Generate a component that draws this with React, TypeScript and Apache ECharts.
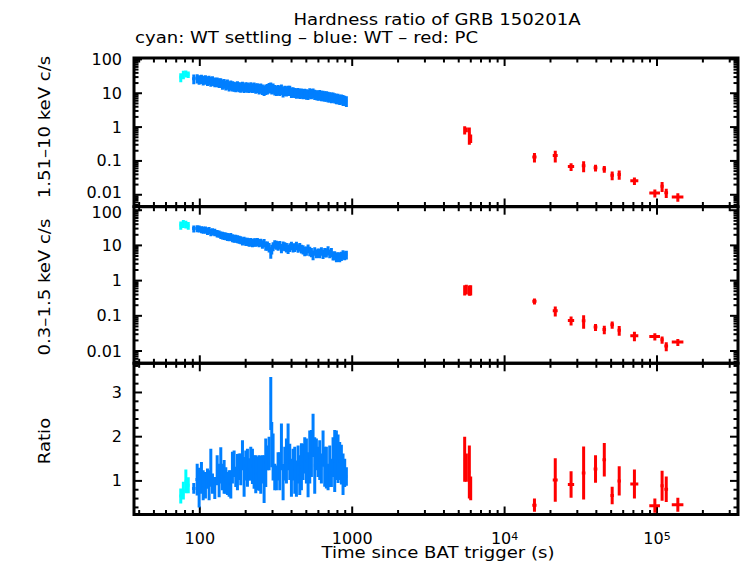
import * as echarts from 'echarts';
import { useEffect, useRef } from 'react';

const FONT = 'DejaVu Sans';

// ---- axis ticks / labels ----
const xMajorTicks = [100, 1000, 10000, 100000];
const xMinorTicks = [
    40, 50, 60, 70, 80, 90,
    200, 300, 400, 500, 600, 700, 800, 900,
    2000, 3000, 4000, 5000, 6000, 7000, 8000, 9000,
    20000, 30000, 40000, 50000, 60000, 70000, 80000, 90000,
    200000, 300000,
];
const xTickLabels: Record<string, string> = { '2': '100', '3': '1000', '4': '10{s|4}', '5': '10{s|5}' };

const yLogMajorTicks = [0.01, 0.1, 1, 10, 100];
const yLogMinorTicks = [
    0.005, 0.006, 0.007, 0.008, 0.009,
    0.02, 0.03, 0.04, 0.05, 0.06, 0.07, 0.08, 0.09,
    0.2, 0.3, 0.4, 0.5, 0.6, 0.7, 0.8, 0.9,
    2, 3, 4, 5, 6, 7, 8, 9,
    20, 30, 40, 50, 60, 70, 80, 90,
];
// top panel's "0.01" sits just above the middle panel's "100"
const hardTickLabels: Record<string, string> = { '-2': '{up|0.01}', '-1': '0.1', '0': '1', '1': '10', '2': '100' };
const softTickLabels: Record<string, string> = { '-2': '0.01', '-1': '0.1', '0': '1', '1': '10', '2': '{dn|100}' };

const ratioMajorTicks = [1, 2, 3];
const ratioMinorTicks = [0.4, 0.6, 0.8, 1.2, 1.4, 1.6, 1.8, 2.2, 2.4, 2.6, 2.8, 3.2, 3.4, 3.6];

// ---- WT settling (cyan) ----
const cyanTime = [75, 78, 81, 84];
const cyanHard = [30, 36, 38, 36];
const cyanHardErr = [9, 10, 9, 8];
const cyanSoft = [38, 42, 40, 37];
const cyanSoftErr = [10, 11, 10, 9];
const cyanRatio = [0.66, 0.78, 0.99, 0.9];
const cyanRatioErr = [0.17, 0.2, 0.27, 0.18];

// ---- WT (blue) ----
const blueTime = [
    91.3, 96.1, 99.0, 102.5, 105.2, 108.9, 112.3, 115.1, 118.1, 121.1,
    125.4, 130.0, 133.9, 137.3, 140.8, 144.4, 148.1, 151.8, 155.7, 159.7,
    163.7, 167.9, 172.2, 176.6, 181.1, 185.7, 190.5, 195.3, 200.3, 205.4,
    210.6, 216.0, 221.5, 227.1, 232.9, 238.8, 245.0, 251.2, 257.6, 264.2,
    270.9, 277.8, 284.9, 292.2, 296.6, 302.6, 310.3, 318.2, 326.4, 334.7,
    343.2, 352.0, 361.0, 370.2, 379.6, 389.3, 399.2, 409.4, 419.8, 430.5,
    441.5, 452.7, 464.2, 476.1, 488.2, 500.6, 513.4, 526.5, 539.9, 553.6,
    567.7, 582.1, 597.0, 612.2, 627.8, 643.8, 660.2, 677.0, 694.3, 712.0,
    730.1, 748.7, 767.8, 787.4, 807.4, 828.0, 849.1, 870.7, 893.0, 915.6,
];
const blueHard = [
    27, 28, 26, 27, 25, 26, 24, 25, 23, 24,
    22, 22, 21, 21, 19, 20, 18, 19, 17, 18,
    17, 16.5, 16, 17, 16, 15.5, 16.5, 15, 16, 15.5,
    15, 16, 15, 15.5, 14.5, 15, 14, 14.5, 13.5, 12.5,
    13.5, 14, 15, 15.5, 14, 14.5, 13, 12.5, 13, 12.5,
    13.5, 11.5, 12.5, 12, 12.5, 12.5, 11, 11.2, 10.8, 10.5,
    10.8, 10.2, 10.3, 10, 10.2, 9.8, 9.5, 10.5, 10, 10.4,
    9.5, 9.2, 9, 9.3, 8.8, 8.8, 8.5, 8.5, 8.2, 8,
    7.8, 7.9, 7.5, 7.2, 7.2, 6.8, 6.9, 6.5, 6.3, 6.0,
];
const blueHardErr = [
    8.5, 8.7, 8.2, 8.4, 8.0, 8.2, 7.6, 7.8, 7.4, 7.6,
    7.0, 7.0, 6.8, 6.8, 6.3, 6.5, 5.9, 6.3, 5.7, 5.9,
    5.7, 5.5, 5.3, 5.7, 5.3, 5.1, 5.5, 4.9, 5.3, 5.1,
    4.9, 5.3, 4.9, 5.1, 4.8, 4.9, 4.8, 4.8, 4.6, 4.2,
    4.6, 4.8, 5.1, 5.3, 4.8, 4.9, 4.4, 4.2, 4.4, 4.2,
    4.6, 4.0, 4.2, 4.0, 4.2, 4.2, 3.8, 3.8, 3.6, 3.6,
    3.6, 3.4, 3.4, 3.4, 3.4, 3.4, 3.2, 3.6, 3.4, 3.4,
    3.2, 3.0, 3.0, 3.2, 3.0, 3.0, 2.9, 2.9, 2.9, 2.7,
    2.7, 2.7, 2.5, 2.5, 2.5, 2.3, 2.3, 2.3, 2.1, 2.1,
];
const blueSoft = [
    30, 30.5, 30, 28.5, 28, 28, 26, 27, 24, 25,
    24, 22, 21.5, 20, 19.5, 19, 18.5, 18, 17.5, 18,
    16.5, 16, 16, 15.5, 15, 14.5, 13.5, 14, 13, 13,
    12.5, 12.7, 12, 12.5, 12.5, 12.8, 12, 12.3, 11, 12,
    10, 10, 9, 6.5, 8, 9.5, 11, 10.5, 10, 10.5,
    8.5, 10, 9.5, 9, 8, 9, 10, 8.8, 9, 10,
    8.5, 9.2, 8.2, 7.8, 7, 7.2, 8.3, 7, 6.5, 5.5,
    7, 6, 6.3, 6.2, 7, 5.8, 6.5, 6.4, 7.3, 6,
    6.5, 5.2, 5.3, 4.8, 4.9, 4.8, 5.1, 5.6, 5.3, 5.5,
];
const blueSoftErr = [
    6.8, 7.0, 6.8, 6.5, 6.5, 6.5, 6.1, 6.3, 5.7, 5.9,
    5.7, 5.3, 5.1, 4.9, 4.8, 4.8, 4.6, 4.6, 4.4, 4.6,
    4.2, 4.2, 4.2, 4.0, 3.8, 3.8, 3.6, 3.6, 3.4, 3.4,
    3.4, 3.4, 3.2, 3.4, 3.4, 3.4, 3.2, 3.2, 3.0, 3.2,
    2.9, 2.9, 2.7, 2.3, 2.5, 2.7, 3.0, 3.0, 2.9, 2.9,
    2.5, 3.0, 2.7, 2.7, 2.3, 2.5, 2.7, 2.5, 2.5, 2.7,
    2.3, 2.5, 2.3, 2.3, 2.1, 2.1, 2.3, 2.1, 1.9, 1.7,
    1.9, 1.7, 1.9, 1.9, 1.9, 1.7, 1.9, 1.9, 2.1, 1.7,
    1.9, 1.5, 1.5, 1.5, 1.5, 1.5, 1.5, 1.7, 1.5, 1.5,
];
const blueRatio = [
    0.83, 1.03, 0.85, 1.07, 0.9, 0.9, 1.05, 0.9, 1.3, 0.94,
    0.84, 1.24, 1.01, 1.35, 1.09, 1.09, 1.01, 0.94, 0.94, 0.92,
    1.3, 1.39, 1.09, 1.2, 1.32, 1.26, 1.58, 1.09, 1.35, 1.3,
    1.26, 1.39, 1.33, 1.2, 1.15, 1.17, 1.18, 1.14, 1.26, 1.04,
    1.41, 1.52, 1.62, 2.75, 1.82, 1.54, 1.09, 1.07, 1.33, 1.22,
    1.77, 0.97, 1.39, 1.45, 1.77, 1.43, 1.07, 1.37, 1.24, 1.05,
    1.37, 1.13, 1.32, 1.43, 1.58, 1.45, 1.14, 1.54, 1.62, 2.03,
    1.35, 1.6, 1.43, 1.47, 1.28, 1.73, 1.32, 1.3, 1.09, 1.33,
    1.18, 1.54, 1.45, 1.58, 1.5, 1.45, 1.37, 1.15, 1.18, 1.1,
];
const blueRatioErr = [
    0.12, 0.36, 0.45, 0.36, 0.34, 0.3, 0.23, 0.34, 0.43, 0.23,
    0.25, 0.34, 0.38, 0.41, 0.3, 0.38, 0.3, 0.26, 0.3, 0.32,
    0.36, 0.3, 0.23, 0.41, 0.3, 0.36, 0.34, 0.45, 0.34, 0.43,
    0.25, 0.38, 0.4, 0.38, 0.43, 0.38, 0.4, 0.43, 0.32, 0.54,
    0.55, 0.28, 0.38, 0.6, 0.51, 0.53, 0.3, 0.28, 0.32, 0.43,
    0.53, 0.41, 0.38, 0.51, 0.53, 0.41, 0.43, 0.36, 0.53, 0.41,
    0.43, 0.45, 0.53, 0.41, 0.41, 0.51, 0.51, 0.6, 0.53, 0.49,
    0.64, 0.36, 0.34, 0.45, 0.34, 0.41, 0.45, 0.47, 0.3, 0.47,
    0.32, 0.45, 0.7, 0.56, 0.55, 0.43, 0.45, 0.47, 0.32, 0.21,
];

// ---- PC (red) ----
const redTime = [5470, 5610, 5870, 5990, 15700, 21500, 27300, 33000, 39500, 45100, 50800, 56500, 71100, 96800, 108000, 115000, 137000];
const redTimeErr = [60, 60, 80, 80, 500, 800, 1300, 900, 1100, 1200, 1300, 1400, 4300, 7800, 2500, 3200, 12000];
const redHard = [0.83, 0.84, 0.64, 0.47, 0.13, 0.145, 0.068, 0.072, 0.063, 0.058, 0.038, 0.04, 0.026, 0.0113, 0.018, 0.0115, 0.0086];
const redHardErr = [0.23, 0.14, 0.34, 0.13, 0.04, 0.055, 0.018, 0.026, 0.014, 0.013, 0.011, 0.012, 0.0065, 0.003, 0.006, 0.0035, 0.0024];
const redSoft = [0.56, 0.58, 0.55, 0.56, 0.26, 0.14, 0.074, 0.073, 0.048, 0.041, 0.056, 0.039, 0.027, 0.026, 0.021, 0.0138, 0.018];
const redSoftErr = [0.18, 0.18, 0.18, 0.18, 0.05, 0.045, 0.021, 0.03, 0.011, 0.011, 0.013, 0.012, 0.008, 0.006, 0.005, 0.004, 0.004];
const redRatio = [1.49, 1.3, 1.2, 0.83, 0.45, 1.02, 0.92, 1.18, 1.27, 1.48, 0.67, 1.0, 0.93, 0.44, 0.89, 0.81, 0.46];
const redRatioErr = [0.51, 0.32, 0.6, 0.27, 0.15, 0.49, 0.3, 0.6, 0.31, 0.38, 0.2, 0.33, 0.33, 0.16, 0.34, 0.29, 0.16];

const CYAN = '#00ffff';
const BLUE = '#007fff';
const RED = '#ff0000';

// bin edges halfway (in log) between neighbouring times
function binEdges(times: number[]) {
    return times.map((t, i) => {
        const prev = i > 0 ? times[i - 1] : (t * t) / times[i + 1];
        const next = i < times.length - 1 ? times[i + 1] : (t * t) / times[i - 1];
        return [Math.sqrt(prev * t), Math.sqrt(t * next)];
    });
}

function rows(times: number[], edges: number[][], vals: number[], errs: number[]) {
    return times.map((t, i) => [t, edges[i][0], edges[i][1], vals[i], vals[i] - errs[i], vals[i] + errs[i]]);
}

function errorBars(color: string, lw: number) {
    return (_params: any, api: any) => {
        const t = api.value(0);
        const v = api.value(3);
        const a = api.coord([t, api.value(4)]);
        const b = api.coord([t, api.value(5)]);
        const l = api.coord([api.value(1), v]);
        const r = api.coord([api.value(2), v]);
        const style = { stroke: color, lineWidth: lw };
        return {
            type: 'group',
            children: [
                { type: 'line', shape: { x1: a[0], y1: a[1], x2: b[0], y2: b[1] }, style },
                { type: 'line', shape: { x1: l[0], y1: l[1], x2: r[0], y2: r[1] }, style },
            ],
        };
    };
}

function tickBars(params: any, api: any) {
    const cs = params.coordSys;
    const kind = api.value(2);
    const p = api.coord([api.value(0), api.value(1)]);
    const len = kind % 2 === 0 ? 8 : 4.5;
    const style = { stroke: '#000', lineWidth: 2 };
    if (kind < 2) {
        const x = p[0];
        const bottom = cs.y + cs.height;
        const top = cs.y;
        return {
            type: 'group',
            children: [
                { type: 'line', shape: { x1: x, y1: bottom, x2: x, y2: bottom - len }, style },
                { type: 'line', shape: { x1: x, y1: top, x2: x, y2: top + len }, style },
            ],
        };
    }
    const y = p[1];
    const left = cs.x;
    const right = cs.x + cs.width;
    return {
        type: 'group',
        children: [
            { type: 'line', shape: { x1: left, y1: y, x2: left + len, y2: y }, style },
            { type: 'line', shape: { x1: right, y1: y, x2: right - len, y2: y }, style },
        ],
    };
}

function tickRows(yMajor: number[], yMinor: number[]) {
    return [
        ...xMajorTicks.map((v) => [v, 1, 0]),
        ...xMinorTicks.map((v) => [v, 1, 1]),
        ...yMajor.map((v) => [1000, v, 2]),
        ...yMinor.map((v) => [1000, v, 3]),
    ];
}

function decadeLabel(table: Record<string, string>) {
    return (v: number) => {
        const lg = Math.log10(v);
        const e = Math.round(lg);
        if (Math.abs(lg - e) > 1e-6) return '';
        return table[String(e)] ?? '';
    };
}

export default function App() {
    const chartRef = useRef<HTMLDivElement>(null);

    useEffect(() => {
        if (!chartRef.current) return;
        const chart = echarts.init(chartRef.current, null, { renderer: 'svg' });

        const cyanEdges = binEdges(cyanTime);
        const blueEdges = binEdges(blueTime);
        const redEdges = redTime.map((t, i) => [t - redTimeErr[i], t + redTimeErr[i]]);

        const panels = [
            { cyan: rows(cyanTime, cyanEdges, cyanHard, cyanHardErr), blue: rows(blueTime, blueEdges, blueHard, blueHardErr), red: rows(redTime, redEdges, redHard, redHardErr), ticks: tickRows(yLogMajorTicks, yLogMinorTicks) },
            { cyan: rows(cyanTime, cyanEdges, cyanSoft, cyanSoftErr), blue: rows(blueTime, blueEdges, blueSoft, blueSoftErr), red: rows(redTime, redEdges, redSoft, redSoftErr), ticks: tickRows(yLogMajorTicks, yLogMinorTicks) },
            { cyan: rows(cyanTime, cyanEdges, cyanRatio, cyanRatioErr), blue: rows(blueTime, blueEdges, blueRatio, blueRatioErr), red: rows(redTime, redEdges, redRatio, redRatioErr), ticks: tickRows(ratioMajorTicks, ratioMinorTicks) },
        ];

        const gridBase = { left: 134, right: 4, show: true, borderColor: '#000', borderWidth: 3, backgroundColor: 'transparent' };
        const labelStyle = { color: '#000', fontFamily: FONT, fontSize: 16 };
        const shiftRich = {
            up: { fontFamily: FONT, fontSize: 16, color: '#000', lineHeight: 13, padding: [0, 0, 5, 0] },
            dn: { fontFamily: FONT, fontSize: 16, color: '#000', lineHeight: 13, padding: [5, 0, 0, 0] },
        };

        const series: any[] = [];
        panels.forEach((p, k) => {
            const common = { xAxisIndex: k, yAxisIndex: k, encode: { x: [0, 1, 2], y: [3, 4, 5] }, silent: true, clip: true };
            series.push({ type: 'custom', xAxisIndex: k, yAxisIndex: k, encode: { x: 0, y: 1 }, silent: true, z: 2, data: p.ticks, renderItem: tickBars });
            series.push({ type: 'custom', ...common, z: 3, data: p.cyan, renderItem: errorBars(CYAN, 3) });
            series.push({ type: 'custom', ...common, z: 3, data: p.blue, renderItem: errorBars(BLUE, 3) });
            series.push({ type: 'custom', ...common, z: 4, data: p.red, renderItem: errorBars(RED, 3) });
        });

        const option: any = {
            animation: false,
            backgroundColor: '#fff',
            grid: [
                { ...gridBase, top: 58, height: 148.5 },
                { ...gridBase, top: 206.7, height: 156.6 },
                { ...gridBase, top: 363.3, height: 151.2 },
            ],
            xAxis: [0, 1, 2].map((k) => ({
                type: 'log',
                logBase: 10,
                gridIndex: k,
                min: 37,
                max: 340000,
                axisLine: { show: false },
                axisTick: { show: false },
                splitLine: { show: false },
                axisLabel:
                    k === 2
                        ? {
                              ...labelStyle,
                              margin: 16,
                              showMinLabel: false,
                              showMaxLabel: false,
                              formatter: decadeLabel(xTickLabels),
                              rich: {
                                  s: { fontFamily: FONT, fontSize: 11, color: '#000', verticalAlign: 'top', lineHeight: 11 },
                              },
                          }
                        : { show: false },
            })),
            yAxis: [
                { min: 0.0045, max: 110, table: hardTickLabels },
                { min: 0.00448, max: 125.7, table: softTickLabels },
            ]
                .map((r, k) => ({
                    type: 'log',
                    logBase: 10,
                    gridIndex: k,
                    min: r.min,
                    max: r.max,
                    axisLine: { show: false },
                    axisTick: { show: false },
                    splitLine: { show: false },
                    axisLabel: { ...labelStyle, lineHeight: 13, margin: 12, showMinLabel: false, showMaxLabel: false, formatter: decadeLabel(r.table), rich: shiftRich },
                }))
                .concat([
                    {
                        type: 'value',
                        gridIndex: 2,
                        min: 0.24,
                        max: 3.66,
                        splitNumber: 3,
                        axisLine: { show: false },
                        axisTick: { show: false },
                        splitLine: { show: false },
                        axisLabel: {
                            ...labelStyle,
                            margin: 12,
                            showMinLabel: false,
                            showMaxLabel: false,
                            formatter: (v: number) => (Math.abs(v - Math.round(v)) < 1e-6 && ratioMajorTicks.includes(Math.round(v)) ? String(Math.round(v)) : ''),
                        },
                    } as any,
                ]),
            graphic: [
                { type: 'text', x: 437, y: 19, scaleX: 1.13, style: { text: 'Hardness ratio of GRB 150201A', fontFamily: FONT, fontSize: 16, fill: '#000', align: 'center', verticalAlign: 'middle', textAlign: 'center', textVerticalAlign: 'middle' } },
                { type: 'text', x: 135, y: 37.5, scaleX: 1.13, style: { text: 'cyan: WT settling – blue: WT – red: PC', fontFamily: FONT, fontSize: 16, fill: '#000', align: 'left', verticalAlign: 'middle', textAlign: 'left', textVerticalAlign: 'middle' } },
                { type: 'text', x: 438, y: 552, scaleX: 1.13, style: { text: 'Time since BAT trigger (s)', fontFamily: FONT, fontSize: 16, fill: '#000', align: 'center', verticalAlign: 'middle', textAlign: 'center', textVerticalAlign: 'middle' } },
                { type: 'text', x: 44, y: 127, rotation: Math.PI / 2, scaleX: 1.13, style: { text: '1.51–10 keV c/s', fontFamily: FONT, fontSize: 16, fill: '#000', align: 'center', verticalAlign: 'middle', textAlign: 'center', textVerticalAlign: 'middle' } },
                { type: 'text', x: 44, y: 287, rotation: Math.PI / 2, scaleX: 1.13, style: { text: '0.3–1.5 keV c/s', fontFamily: FONT, fontSize: 16, fill: '#000', align: 'center', verticalAlign: 'middle', textAlign: 'center', textVerticalAlign: 'middle' } },
                { type: 'text', x: 44, y: 441, rotation: Math.PI / 2, scaleX: 1.13, style: { text: 'Ratio', fontFamily: FONT, fontSize: 16, fill: '#000', align: 'center', verticalAlign: 'middle', textAlign: 'center', textVerticalAlign: 'middle' } },
            ],
            series,
        };

        chart.setOption(option);

        const handleResize = () => chart.resize();
        window.addEventListener('resize', handleResize);

        return () => {
            chart.dispose();
            window.removeEventListener('resize', handleResize);
        };
    }, []);

    return <div ref={chartRef} style={{ position: 'fixed', left: 0, top: 0, width: '742px', height: '566px' }} />;
}
